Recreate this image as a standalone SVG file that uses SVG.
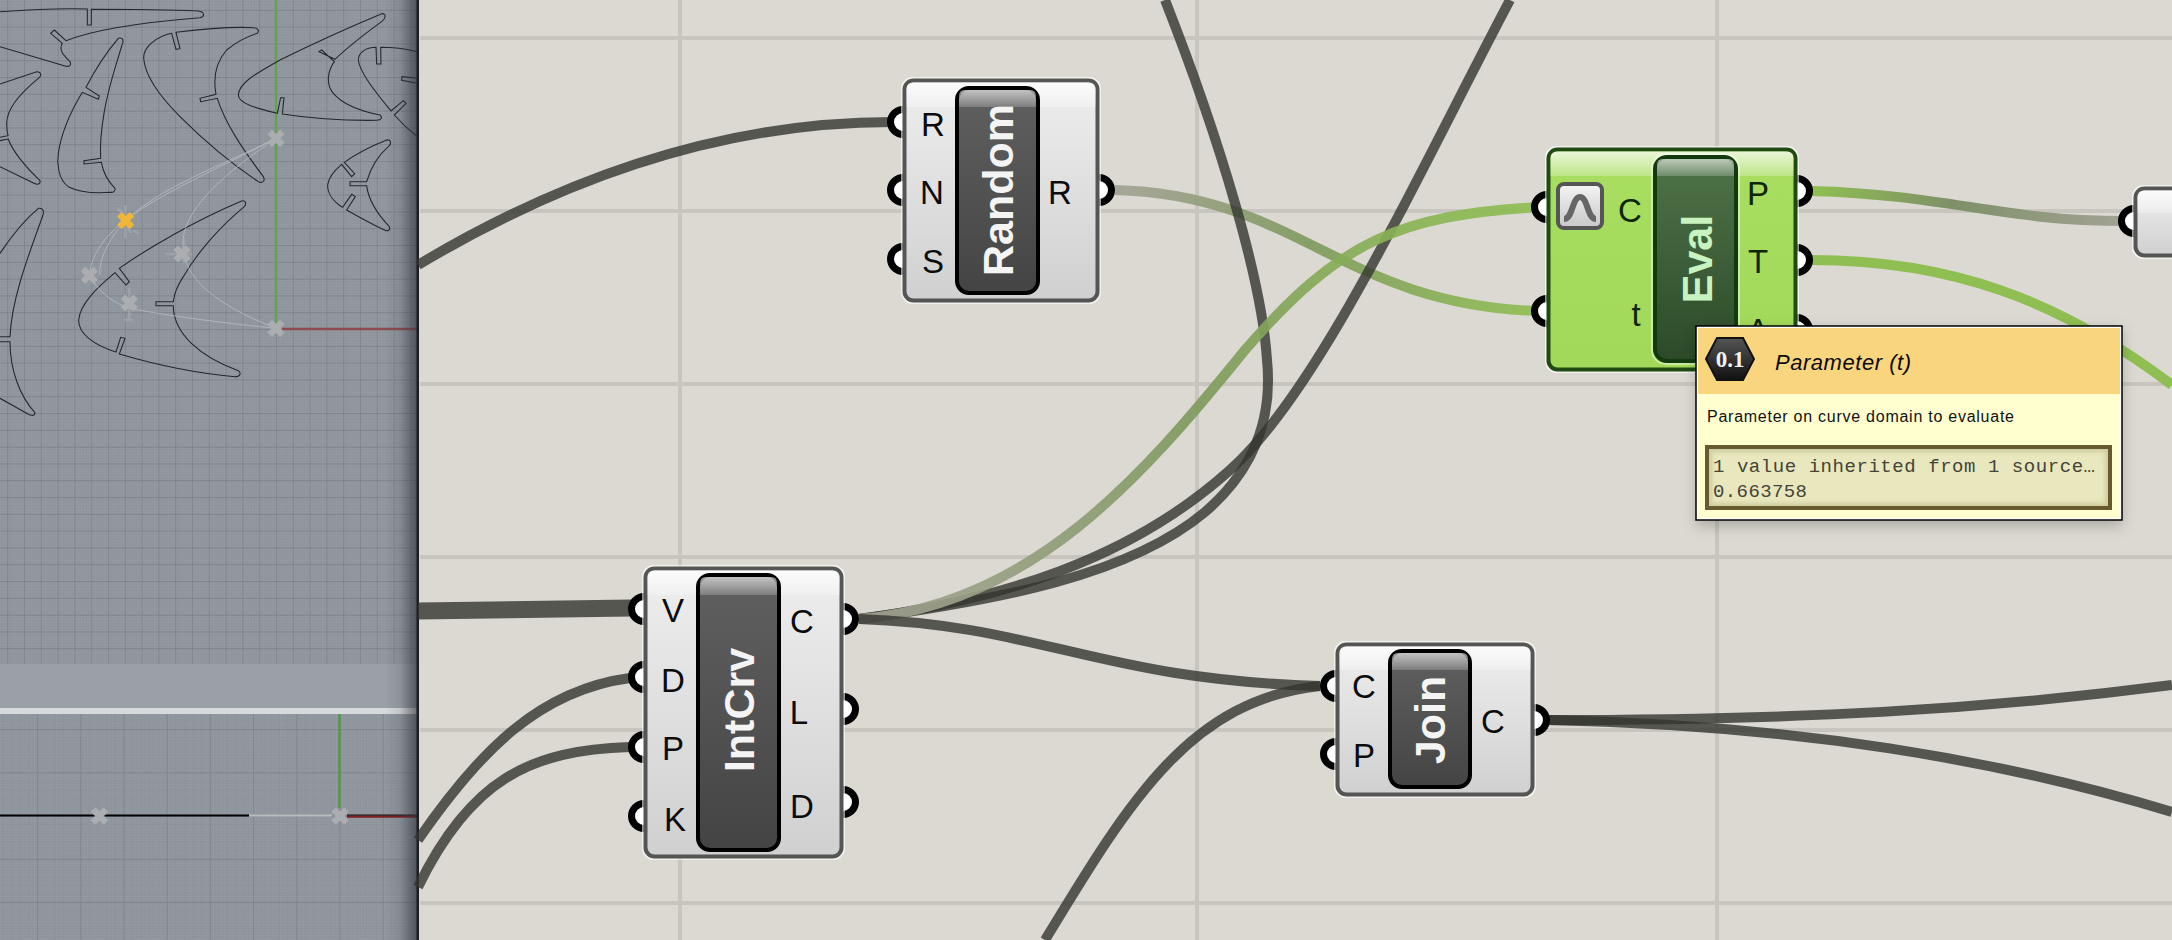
<svg xmlns="http://www.w3.org/2000/svg" width="2172" height="940" viewBox="0 0 2172 940">
<style>
text{font-family:"Liberation Sans",Arial,sans-serif}
.lbl{font-size:33px;fill:#0c0c0c;text-anchor:middle}
.cap{font-size:43px;font-weight:700;fill:#f4f4f4;text-anchor:middle}
.halo{fill:none;stroke:#fff;stroke-opacity:.6;stroke-width:3}
.box{fill:url(#bodyG);stroke:#555;stroke-width:4}
.band{fill:url(#bandG)}
.capsule{fill:url(#capG);stroke:#000;stroke-width:4}
.capband{fill:url(#capBandG)}
.port{fill:#fff;stroke:#000;stroke-width:7}
.wire{fill:none;stroke:#35352f;stroke-opacity:.8;stroke-width:10;stroke-linecap:butt}
.crv{fill:none;stroke:#24282c;stroke-width:3.2}
.ctl{fill:none;stroke:#bfc2c4;stroke-width:3;stroke-opacity:.7}
.xm{fill:none;stroke:#abadb0;stroke-width:19}
.xl{fill:none;stroke:#abadb0;stroke-width:6.500}
.mono{font-family:"Liberation Mono","Courier New",monospace;font-size:19px;fill:#444438}
</style>
<defs>
<linearGradient id="bodyG" x1="0" y1="0" x2="0" y2="1"><stop offset="0" stop-color="#eeeeee"/><stop offset="1" stop-color="#d0d0d0"/></linearGradient>
<linearGradient id="greenG" x1="0" y1="0" x2="0" y2="1"><stop offset="0" stop-color="#a9de60"/><stop offset="1" stop-color="#a2d95a"/></linearGradient>
<linearGradient id="bandG" x1="0" y1="0" x2="0" y2="1"><stop offset="0" stop-color="#fff" stop-opacity=".75"/><stop offset="1" stop-color="#fff" stop-opacity=".25"/></linearGradient>
<linearGradient id="capG" x1="0" y1="0" x2="0" y2="1"><stop offset="0" stop-color="#606060"/><stop offset="1" stop-color="#444"/></linearGradient>
<linearGradient id="capGreen" x1="0" y1="0" x2="0" y2="1"><stop offset="0" stop-color="#4f7349"/><stop offset="1" stop-color="#2c4a28"/></linearGradient>
<linearGradient id="capBandG" x1="0" y1="0" x2="0" y2="1"><stop offset="0" stop-color="#fff" stop-opacity=".62"/><stop offset="1" stop-color="#fff" stop-opacity=".2"/></linearGradient>
<linearGradient id="iconG" x1="0" y1="0" x2="0" y2="1"><stop offset="0" stop-color="#f4f4f4"/><stop offset="1" stop-color="#c8c8c8"/></linearGradient>
<linearGradient id="hexG" x1="0" y1="0" x2="0" y2="1"><stop offset="0" stop-color="#555"/><stop offset="1" stop-color="#111"/></linearGradient>
<linearGradient id="shade" x1="0" y1="0" x2="1" y2="0"><stop offset="0" stop-color="#30343a" stop-opacity="0"/><stop offset=".45" stop-color="#30343a" stop-opacity=".12"/><stop offset="1" stop-color="#30343a" stop-opacity=".7"/></linearGradient>
<linearGradient id="w1" gradientUnits="userSpaceOnUse" x1="860" y1="619" x2="1540" y2="207"><stop offset="0" stop-color="#a2a294"/><stop offset=".5" stop-color="#7f9a5e"/><stop offset="1" stop-color="#8fbf52"/></linearGradient>
<linearGradient id="w2" gradientUnits="userSpaceOnUse" x1="1115" y1="190" x2="1540" y2="311"><stop offset="0" stop-color="#a2a294"/><stop offset=".45" stop-color="#7f9a5e"/><stop offset="1" stop-color="#8fbf52"/></linearGradient>
<linearGradient id="w3" gradientUnits="userSpaceOnUse" x1="1812" y1="191" x2="2125" y2="221"><stop offset="0" stop-color="#8fbf52"/><stop offset=".45" stop-color="#7f9068"/><stop offset="1" stop-color="#a2a294"/></linearGradient>
<pattern id="dots" width="2.8" height="2.8" patternUnits="userSpaceOnUse"><rect width="2.8" height="2.8" fill="#8f959d"/><rect width="1.2" height="1.2" fill="#989ea5"/></pattern>
<pattern id="gridTop" width="16.8" height="16.8" patternUnits="userSpaceOnUse" patternTransform="translate(276 329)"><path d="M0 0H16.8M0 0V16.8" stroke="#7b8084" stroke-width="1.300" fill="none"/></pattern>
<pattern id="gridMinor" width="8.64" height="8.64" patternUnits="userSpaceOnUse" patternTransform="translate(339.5 815.5)"><path d="M0 0H8.64M0 0V8.64" stroke="#868b91" stroke-opacity=".45" stroke-width="1" fill="none"/></pattern>
<pattern id="gridLow" width="43.2" height="43.2" patternUnits="userSpaceOnUse" patternTransform="translate(339.5 815.5)"><path d="M0 0H43.2M0 0V43.2" stroke="#7b8084" stroke-width="1.300" fill="none"/></pattern>
<filter id="soft" x="-10%" y="-20%" width="120%" height="140%"><feGaussianBlur stdDeviation="7"/></filter>
<filter id="inner" x="-5%" y="-20%" width="110%" height="140%"><feGaussianBlur stdDeviation="2"/></filter>
<clipPath id="topClip"><rect x="0" y="0" width="418" height="664"/></clipPath>
</defs>

<rect id="canvas" width="2172" height="940" fill="#dcd9d2"/>
<g id="canvas-grid" stroke="#c8c5be" stroke-width="4" fill="none">
<path d="M680 0V940M1197 0V940M1717 0V940M420 38H2172M420 211H2172M420 384H2172M420 557H2172M420 730H2172M420 903H2172"/>
</g>

<g id="viewport">
<rect x="0" y="0" width="418" height="664" fill="url(#dots)"/>
<rect x="0" y="0" width="418" height="664" fill="url(#gridTop)"/>
<rect x="0" y="664" width="418" height="44" fill="#9aa0a6"/>
<rect x="0" y="708" width="418" height="6" fill="#d8d9db"/>
<rect x="0" y="714" width="418" height="226" fill="url(#dots)"/>
<rect x="0" y="714" width="418" height="226" fill="url(#gridMinor)"/>
<rect x="0" y="714" width="418" height="226" fill="url(#gridLow)"/>
<path d="M276 0V324" stroke="#62a155" stroke-width="2.4"/>
<path d="M282 329H418" stroke="#8d4c50" stroke-width="2.4"/>
<g clip-path="url(#topClip)"><g transform="scale(.33333)">
<path class="crv" d="M0 35C100 28 200 25 262 27L262 75L274 75L274 28C400 28 520 30 595 33C615 36 615 50 600 53C450 65 290 85 198 122L163 90L152 100L187 130C175 150 190 165 210 185C216 198 205 201 195 198L0 140"/>
<path class="crv" d="M355 115C370 110 372 125 366 135C350 190 325 260 312 340C302 400 300 440 302 475L252 482L252 492L304 487C310 520 325 545 345 565C347 574 340 578 330 577C290 580 240 578 205 560C175 540 170 490 175 460C185 390 215 330 247 277L295 298L298 288L258 262C290 200 325 150 355 115Z"/>
<path class="crv" d="M772 100C778 92 775 84 760 83C700 80 600 88 528 97L540 146L528 148L515 100C470 110 430 140 431 175C435 230 480 290 540 350C620 430 700 495 775 545C790 552 796 540 790 530C730 450 675 370 652 295L602 305L600 295L648 283C640 240 645 190 680 150C710 125 740 110 772 100Z"/>
<path class="crv" d="M1145 41C1160 40 1158 55 1145 65C1090 105 1045 140 1005 178L957 155L965 150L1003 185C985 210 975 250 1000 280C1030 315 1090 335 1140 345C1148 352 1145 360 1130 361C1040 362 930 355 847 342L852 293L842 293L832 340C770 325 715 310 715 285C717 250 760 225 840 180C930 135 1040 85 1145 41Z"/>
<path class="crv" d="M1252 155C1210 145 1170 142 1142 142L1143 192L1130 192L1128 142C1095 142 1075 160 1075 180C1080 220 1130 280 1173 333L1210 302L1218 310L1183 345C1205 370 1230 393 1252 410M1252 235L1206 230L1205 241L1252 250"/>
<path class="crv" d="M1160 420C1172 418 1175 428 1168 437C1130 470 1110 510 1100 545L1050 545L1050 557L1100 557C1105 600 1135 645 1168 680C1172 690 1165 695 1155 691C1110 670 1075 650 1040 630L1066 590L1055 583L1028 622C1000 605 982 580 983 555C985 535 1005 510 1025 493L1055 530L1064 521L1033 487C1070 460 1110 440 1160 420Z"/>
<path class="crv" d="M725 603C738 600 740 612 733 620C660 680 590 760 550 830C530 860 522 885 520 905L468 905L468 917L520 917C520 1000 600 1070 715 1112C725 1120 720 1130 705 1130C590 1120 470 1095 358 1062L375 1015L362 1012L348 1056C280 1035 235 1000 236 960C240 910 295 860 345 818L378 855L388 845L358 805C450 740 590 660 725 603Z"/>
<path class="crv" d="M0 760C40 700 85 650 115 625C130 622 133 635 128 648C80 780 35 900 30 1010L0 1010M0 1025L30 1025C30 1110 60 1190 105 1238C105 1248 95 1248 85 1243L0 1195"/>
<path class="crv" d="M0 252L110 215C125 215 125 228 115 235C60 280 20 330 20 370C20 385 22 400 24 407L0 412M0 422L25 417C35 450 80 505 120 542C122 553 112 555 102 550L0 500"/>
<path class="ctl" d="M828 415C680 490 480 560 377 662C320 700 275 760 268 826"/>
<path class="ctl" d="M828 415C720 490 580 590 552 700C540 780 560 880 828 985"/>
<path class="ctl" d="M268 826C290 870 340 910 388 925C520 950 680 970 828 985"/>
<path class="ctl" d="M300 825C295 770 340 700 377 662C450 600 600 530 760 450L828 415" stroke-opacity=".4"/>
<path d="M362 628L392 700M400 690L415 700M352 625L362 635M376 615V714M388 865V960M372 960H400M497 762H575M552 715V790" fill="none" stroke="#a8adb3" stroke-width="8" stroke-opacity=".55"/>
<path class="xm" d="M809 396L847 434M847 396L809 434"/>
<path class="xm" d="M809 966L847 1004M847 966L809 1004"/>
<path class="xm" d="M249 807L287 845M287 807L249 845"/>
<path class="xm" d="M369 890L407 928M407 890L369 928"/>
<path class="xm" d="M527 743L565 781M565 743L527 781"/>
<path d="M358 643L396 681M396 643L358 681" fill="none" stroke="#f0b638" stroke-width="19"/>
</g></g>
<path d="M339.5 714V808" stroke="#4f9845" stroke-width="2.4"/>
<path d="M0 815.5H249" stroke="#000" stroke-width="2"/>
<path d="M249 815.5H332" stroke="#b9bcbe" stroke-width="2"/>
<path d="M347 816.5H418" stroke="#7e1f22" stroke-width="2.4"/>
<path d="M347 815H418" stroke="#111" stroke-width="1"/>
<path class="xl" d="M93 809.500L106 822.500M106 809.500L93 822.500"/>
<path class="xl" d="M333.500 809.500L346.500 822.500M346.500 809.500L333.500 822.500"/>
<rect x="385" y="0" width="33" height="940" fill="url(#shade)"/>
<rect x="416.500" y="0" width="2.500" height="940" fill="#1c1f22"/>
</g>

<g id="connectors">
<path class="wire" d="M418 265C560 180 720 122 892 122"/>
<path class="wire" style="stroke-width:17" d="M418 611L632 608"/>
<path class="wire" d="M418 840C480 750 540 690 630 678"/>
<path class="wire" d="M418 887C470 780 530 750 630 747"/>
<path class="wire" style="stroke:url(#w2);stroke-opacity:.92" d="M1115 190C1300 195 1340 305 1540 311"/>
<path class="wire" d="M859 619C1000 600 1130 560 1230 470C1320 390 1420 170 1510 0"/>
<path class="wire" d="M859 619C1000 600 1130 575 1205 512C1260 465 1272 410 1267 360C1262 280 1220 140 1165 0"/>
<path class="wire" style="stroke:url(#w1);stroke-opacity:.92" d="M859 619C1030 605 1140 480 1245 350C1340 240 1400 215 1540 207"/>
<path class="wire" d="M859 619C1040 625 1100 680 1320 686"/>
<path class="wire" d="M1045 940C1130 800 1190 700 1320 686"/>
<path class="wire" d="M1545 720C1800 720 1980 710 2172 685"/>
<path class="wire" d="M1545 720C1800 725 2000 760 2172 812"/>
<path class="wire" style="stroke:url(#w3);stroke-opacity:1" d="M1812 191C1950 195 2000 221 2125 221"/>
<path class="wire" style="stroke:#8fbf52;stroke-opacity:1" d="M1812 260C1950 260 2060 300 2172 385"/>
</g>

<g id="node-random">
<circle class="port" cx="903" cy="122" r="12.500"/><circle class="port" cx="903" cy="190" r="12.500"/><circle class="port" cx="903" cy="259" r="12.500"/><circle class="port" cx="1099" cy="190" r="12.500"/>
<rect class="halo" x="902.500" y="78.500" width="197" height="224" rx="10"/>
<rect class="box" x="904.500" y="80.500" width="193" height="220" rx="9"/>
<path class="band" d="M906.500 107V89Q906.500 82.500 913 82.500H1089Q1095.500 82.500 1095.500 89V107Z"/>
<rect class="capsule" x="957" y="88" width="81" height="205" rx="12"/>
<path class="capband" d="M959 107V96Q959 90 965 90H1030Q1036 90 1036 96V107Z"/>
<text class="cap" transform="translate(1013 190) rotate(-90)">Random</text>
<text class="lbl" x="933" y="136">R</text><text class="lbl" x="932" y="204">N</text><text class="lbl" x="933" y="273">S</text><text class="lbl" x="1060" y="204">R</text>
</g>

<g id="node-intcrv">
<circle class="port" cx="644" cy="609" r="12.500"/><circle class="port" cx="644" cy="677" r="12.500"/><circle class="port" cx="644" cy="747" r="12.500"/><circle class="port" cx="644" cy="816" r="12.500"/>
<circle class="port" cx="843" cy="619" r="12.500"/><circle class="port" cx="843" cy="709" r="12.500"/><circle class="port" cx="843" cy="802" r="12.500"/>
<rect class="halo" x="643.500" y="566.500" width="200" height="292" rx="10"/>
<rect class="box" x="645.500" y="568.500" width="196" height="288" rx="9"/>
<path class="band" d="M647.500 595V577Q647.500 570.500 654 570.500H833Q839.500 570.500 839.500 577V595Z"/>
<rect class="capsule" x="698" y="575" width="81" height="275" rx="12"/>
<path class="capband" d="M700 595V583Q700 577 706 577H771Q777 577 777 583V595Z"/>
<text class="cap" transform="translate(754 710) rotate(-90)">IntCrv</text>
<text class="lbl" x="673" y="622">V</text><text class="lbl" x="673" y="692">D</text><text class="lbl" x="673" y="760">P</text><text class="lbl" x="675" y="831">K</text>
<text class="lbl" x="802" y="633">C</text><text class="lbl" x="799" y="724">L</text><text class="lbl" x="802" y="818">D</text>
</g>

<g id="node-join">
<circle class="port" cx="1336" cy="686" r="12.500"/><circle class="port" cx="1336" cy="754" r="12.500"/><circle class="port" cx="1534" cy="720" r="12.500"/>
<rect class="halo" x="1335.500" y="642.500" width="199" height="154" rx="10"/>
<rect class="box" x="1337.500" y="644.500" width="195" height="150" rx="9"/>
<path class="band" d="M1339.500 670V653Q1339.500 646.500 1346 646.500H1524Q1530.500 646.500 1530.500 653V670Z"/>
<rect class="capsule" x="1390" y="651" width="80" height="136" rx="12"/>
<path class="capband" d="M1392 670V659Q1392 653 1398 653H1462Q1468 653 1468 659V670Z"/>
<text class="cap" transform="translate(1445 720) rotate(-90)">Join</text>
<text class="lbl" x="1364" y="698">C</text><text class="lbl" x="1364" y="767">P</text><text class="lbl" x="1493" y="733">C</text>
</g>

<g id="node-eval">
<circle class="port" cx="1547" cy="207" r="12.500"/><circle class="port" cx="1547" cy="311" r="12.500"/>
<circle class="port" cx="1797" cy="191" r="12.500"/><circle class="port" cx="1797" cy="260" r="12.500"/><circle class="port" cx="1797" cy="330" r="12.500"/>
<rect class="halo" x="1546.500" y="147.500" width="251" height="224" rx="10"/>
<rect class="box" style="fill:url(#greenG);stroke:#1f4a12" x="1548.500" y="149.500" width="247" height="220" rx="9"/>
<path class="band" d="M1550.500 176V158Q1550.500 151.500 1557 151.500H1787Q1793.500 151.500 1793.500 158V176Z"/>
<rect x="1652" y="154" width="87" height="210" rx="14" fill="none" stroke="#fff" stroke-opacity=".45" stroke-width="2"/>
<rect class="capsule" style="fill:url(#capGreen);stroke:#133a0e" x="1655" y="157" width="81" height="204" rx="12"/>
<path class="capband" d="M1657 176V165Q1657 159 1663 159H1728Q1734 159 1734 165V176Z"/>
<text class="cap" style="fill:#c8f2bf" transform="translate(1712 259) rotate(-90)">Eval</text>
<rect x="1558" y="184" width="44" height="44" rx="6" fill="url(#iconG)" stroke="#555" stroke-width="4"/>
<path d="M1564 219C1573 219 1572 197 1580 197C1588 197 1587 219 1596 219" fill="none" stroke="#666" stroke-width="6"/>
<text class="lbl" style="fill:#0d2606" x="1630" y="222">C</text><text class="lbl" style="fill:#0d2606" x="1636" y="326">t</text>
<text class="lbl" style="fill:#0d2606" x="1758" y="205">P</text><text class="lbl" style="fill:#0d2606" x="1758" y="273">T</text><text class="lbl" style="fill:#0d2606" x="1758" y="342">A</text>
</g>

<g id="node-right">
<circle class="port" cx="2134" cy="221" r="12.500"/>
<rect class="halo" x="2133.500" y="186.500" width="60" height="71" rx="10"/>
<rect class="box" x="2135.500" y="188.500" width="60" height="67" rx="9"/>
<path class="band" d="M2137.500 213V197Q2137.500 190.500 2144 190.500H2172V213Z"/>
</g>

<g id="tooltip">
<rect x="1696" y="330" width="426" height="196" fill="#000" fill-opacity=".22" filter="url(#soft)"/>
<rect x="1696" y="326" width="426" height="194" fill="#fff" stroke="#000" stroke-width="1.500"/>
<rect x="1698" y="328" width="422" height="66" fill="#f9d67e"/>
<rect x="1698" y="394" width="422" height="124" fill="#ffffd0"/>
<polygon points="1706,359 1717,338 1743,338 1754,359 1743,380 1717,380" fill="url(#hexG)" stroke="#111" stroke-width="2"/>
<text x="1730" y="367" text-anchor="middle" style="font-family:'Liberation Serif',serif;font-size:23px;font-weight:700;fill:#f2f2f2">0.1</text>
<text x="1775" y="370" font-size="22" font-style="italic" fill="#0a0a0a" textLength="136" lengthAdjust="spacing">Parameter (t)</text>
<text x="1707" y="422" font-size="16" fill="#111" textLength="307" lengthAdjust="spacing">Parameter on curve domain to evaluate</text>
<rect x="1705" y="445" width="407" height="65" fill="#675a30"/>
<rect x="1709" y="449" width="399" height="57" fill="#cfcda0"/>
<rect x="1712" y="452" width="393" height="51" fill="#e8e7bd" filter="url(#inner)"/>
<rect x="1707" y="447" width="403" height="61" fill="none" stroke="#675a30" stroke-width="4"/>
<text class="mono" x="1713" y="472" textLength="382" lengthAdjust="spacing">1 value inherited from 1 source…</text>
<text class="mono" x="1713" y="497" textLength="94" lengthAdjust="spacing">0.663758</text>
</g>
</svg>
